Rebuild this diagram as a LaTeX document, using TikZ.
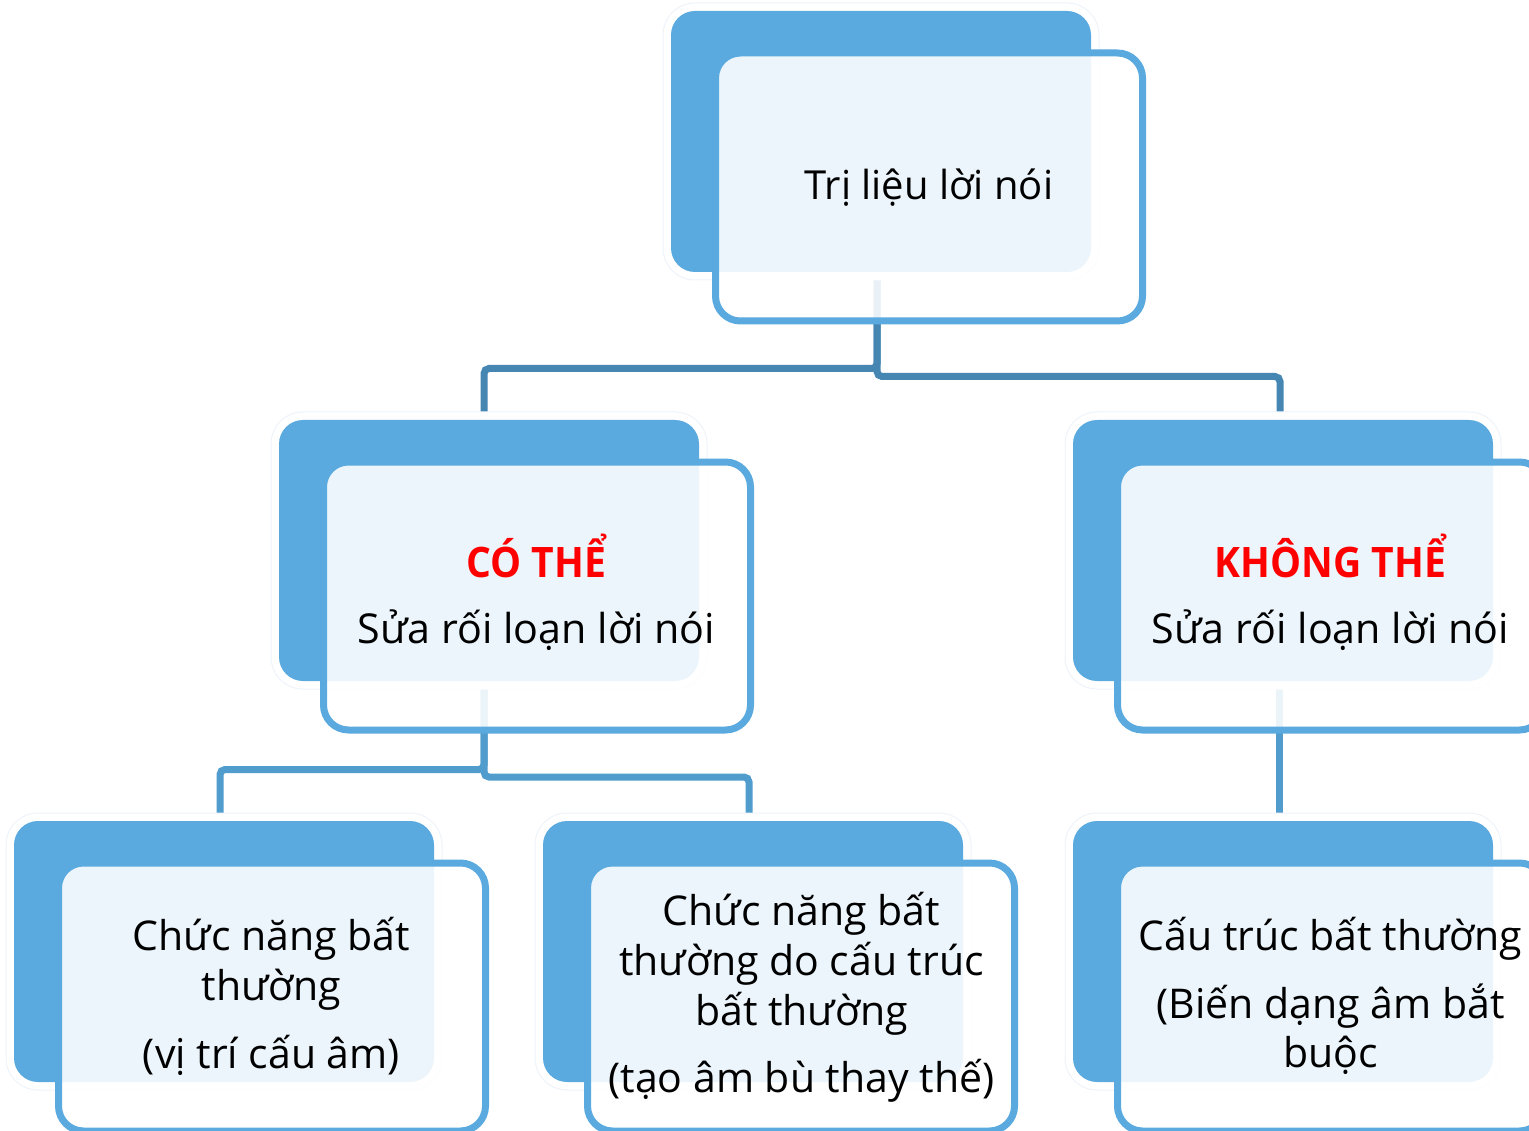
\documentclass[tikz,border=0pt]{standalone}
\usepackage{fontspec}
\setmainfont{Open Sans}
\newfontfamily\redfont[FakeStretch=0.93]{Open Sans}
\pgfdeclarelayer{bg}
\pgfdeclarelayer{bottom}
\pgfsetlayers{bottom,bg,main}
\definecolor{boxblue}{HTML}{5AAADF}
\definecolor{lineA}{HTML}{4686B3}
\definecolor{lineB}{HTML}{509CCC}
\definecolor{haloedge}{HTML}{EEF4FA}
\definecolor{redtxt}{HTML}{FF0000}
\tikzset{
  halobox/.style={minimum width=436pt, minimum height=277pt, rounded corners=32pt, fill=white, draw=haloedge, line width=1pt, inner sep=0pt, outer sep=0pt},
  backbox/.style={minimum width=420pt, minimum height=261pt, rounded corners=24pt, fill=boxblue, inner sep=0pt, outer sep=0pt},
  frontbox/.style={minimum width=427pt, minimum height=268pt, rounded corners=25pt, fill=white, fill opacity=0.89, draw=boxblue, draw opacity=1, line width=7pt, inner sep=0pt, outer sep=0pt},
  txt/.style={anchor=base, inner sep=0pt, font=\fontsize{40}{48}\selectfont, text=black},
  txtlow/.style={anchor=base, inner sep=0pt, font=\fontsize{41}{49}\selectfont, text=black},
  txtmid/.style={anchor=base, inner sep=0pt, font=\fontsize{41.2}{50}\selectfont, text=black},
  redlbl/.style={anchor=base, inner sep=0pt, font=\redfont\bfseries\fontsize{42}{50}\selectfont, text=redtxt},
  connA/.style={draw=lineA, line width=7pt, rounded corners=5pt},
  connB/.style={draw=lineB, line width=7pt, rounded corners=5pt},
}
% #1 name, #2 x of back box left, #3 y of back box top
\newcommand{\mybox}[3]{%
  \node[halobox] (#1h) at (#2+210, #3+130.5) {};
  \node[backbox] (#1b) at (#2+210, #3+130.5) {};
  \node[frontbox] (#1f) at (#2+258, #3+176) {};
}
\begin{document}
\begin{tikzpicture}[x=1pt, y=-1pt]
\useasboundingbox (0,0) rectangle (1529,1131);
\begin{pgfonlayer}{bottom}
\fill[white] (0,0) rectangle (1529,1131);
\end{pgfonlayer}

% boxes
\mybox{top}{671}{11}
\mybox{cl}{279}{420}
\mybox{cr}{1073}{420}
\mybox{ga}{14}{821}
\mybox{gb}{543}{821}
\mybox{gc}{1073}{821}

% connector points
\coordinate (p0) at (877,272);
\coordinate (k0l) at (484,420);
\coordinate (k0r) at (1280,420);
\coordinate (p1) at (484,680);
\coordinate (k1a) at (220,821);
\coordinate (k1b) at (749,821);
\coordinate (p2) at (1279,680);
\coordinate (k2) at (1279,821);

\begin{pgfonlayer}{bg}
\draw[connA] (p0) -- (p0 |- 0,368.5) -- (k0l |- 0,368.5) -- (k0l);
\draw[connA] (p0) -- (p0 |- 0,376.5) -- (k0r |- 0,376.5) -- (k0r);
\draw[connB] (p1) -- (p1 |- 0,769.5) -- (k1a |- 0,769.5) -- (k1a);
\draw[connB] (p1) -- (p1 |- 0,777) -- (k1b |- 0,777) -- (k1b);
\draw[connB] (p2) -- (k2);
\end{pgfonlayer}

% texts
\node[txt] (t0) at (929,200) {Trị liệu lời nói};

\node[redlbl] (t1a) at (536.5,577) {CÓ THỂ};
\node[txtmid] (t1b) at (536.5,643) {Sửa rối loạn lời nói};

\node[redlbl] (t2a) at (1330.5,577) {KHÔNG THỂ};
\node[txtmid] (t2b) at (1330.5,643) {Sửa rối loạn lời nói};

\node[txtlow] (t3a) at (271.5,950) {Chức năng bất};
\node[txtlow] (t3b) at (271.5,1000) {thường};
\node[txtlow] (t3c) at (271.5,1068) {(vị trí cấu âm)};

\node[txtlow] (t4a) at (801.5,925) {Chức năng bất};
\node[txtlow] (t4b) at (801.5,975) {thường do cấu trúc};
\node[txtlow] (t4c) at (801.5,1025) {bất thường};
\node[txtlow] (t4d) at (801.5,1092) {(tạo âm bù thay thế)};

\node[txtlow] (t5a) at (1330.5,950) {Cấu trúc bất thường};
\node[txtlow] (t5b) at (1330.5,1018) {(Biến dạng âm bắt};
\node[txtlow] (t5c) at (1330.5,1067) {buộc};
\end{tikzpicture}
\end{document}
